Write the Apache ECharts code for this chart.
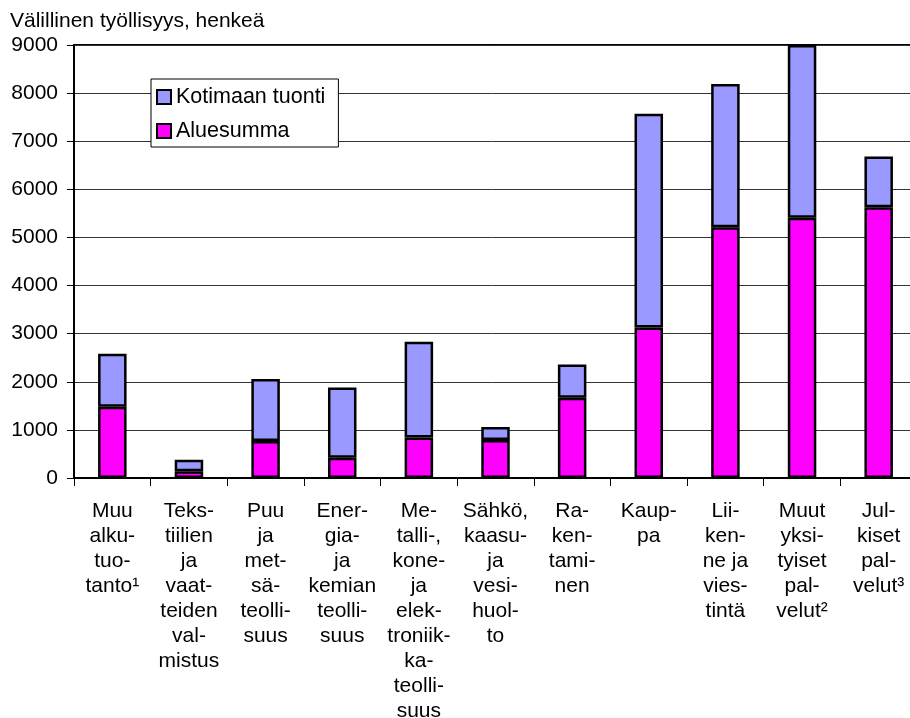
<!DOCTYPE html>
<html>
<head>
<meta charset="utf-8">
<script src="https://cdn.jsdelivr.net/npm/echarts@6/dist/echarts.min.js"></script>
<style>html,body{margin:0;padding:0;background:#fff;overflow:hidden}#c{width:910px;height:718px}</style>
</head>
<body>
<div id="c"></div>
<script>
const categories = [
  'Muu\nalku-\ntuo-\ntanto¹',
  'Teks-\ntiilien\nja\nvaat-\nteiden\nval-\nmistus',
  'Puu\nja\nmet-\nsä-\nteolli-\nsuus',
  'Ener-\ngia-\nja\nkemian\nteolli-\nsuus',
  'Me-\ntalli-,\nkone-\nja\nelek-\ntroniik-\nka-\nteolli-\nsuus',
  'Sähkö,\nkaasu-\nja\nvesi-\nhuol-\nto',
  'Ra-\nken-\ntami-\nnen',
  'Kaup-\npa',
  'Lii-\nken-\nne ja\nvies-\ntintä',
  'Muut\nyksi-\ntyiset\npal-\nvelut²',
  'Jul-\nkiset\npal-\nvelut³'
];
const aluesumma = [1480, 140, 770, 420, 840, 790, 1670, 3130, 5210, 5410, 5630];
const kotimaanTuonti = [1100, 240, 1290, 1460, 1990, 270, 690, 4440, 2980, 3590, 1050];
const yTicks = { min: 0, max: 9000, interval: 1000 };

const FONT = '"Liberation Sans", Arial, sans-serif';
const chart = echarts.init(document.getElementById('c'), null, { renderer: 'canvas', width: 910, height: 718 });
chart.setOption({
  animation: false,
  backgroundColor: '#ffffff',
  title: {
    text: 'Välillinen työllisyys, henkeä',
    left: 10, top: 11, padding: 0,
    textStyle: { fontFamily: FONT, fontSize: 21, fontWeight: 'normal', color: '#000' }
  },
  legend: {
    orient: 'vertical',
    left: 151, top: 79,
    padding: [7, 13, 5, 5],
    itemGap: 12,
    itemWidth: 14, itemHeight: 14,
    backgroundColor: '#fff',
    borderColor: '#000', borderWidth: 1,
    icon: 'rect',
    data: ['Kotimaan tuonti', 'Aluesumma'],
    itemStyle: { borderColor: '#000', borderWidth: 2 },
    textStyle: { fontFamily: FONT, fontSize: 21.5, color: '#000', lineHeight: 22 }
  },
  grid: {
    left: 74, top: 45, width: 843, height: 433,
    containLabel: false, outerBoundsMode: 'none',
    show: true, borderColor: '#000', borderWidth: 2, backgroundColor: 'transparent'
  },
  xAxis: {
    type: 'category',
    data: categories,
    axisLine: { lineStyle: { color: '#000', width: 2 } },
    axisTick: { show: true, length: 8, lineStyle: { color: '#000', width: 1 } },
    axisLabel: { interval: 0, fontFamily: FONT, fontSize: 21, color: '#000', lineHeight: 25, margin: 21, align: 'center' }
  },
  yAxis: {
    type: 'value',
    min: yTicks.min, max: yTicks.max, interval: yTicks.interval,
    axisLine: { show: true, lineStyle: { color: '#000', width: 2 } },
    axisTick: { show: true, length: 7, lineStyle: { color: '#000', width: 1 } },
    splitLine: { show: true, lineStyle: { color: '#333', width: 1 } },
    axisLabel: { fontFamily: FONT, fontSize: 21, color: '#000', margin: 16, formatter: v => String(v) }
  },
  series: [
    {
      name: 'Aluesumma', type: 'bar', stack: 'total', data: aluesumma,
      barWidth: 28.5,
      itemStyle: { color: '#FF00FF', borderColor: '#000', borderWidth: 2.5 }
    },
    {
      name: 'Kotimaan tuonti', type: 'bar', stack: 'total', data: kotimaanTuonti,
      barWidth: 28.5,
      itemStyle: { color: '#9999FF', borderColor: '#000', borderWidth: 2.5 }
    }
  ]
});
</script>
</body>
</html>
